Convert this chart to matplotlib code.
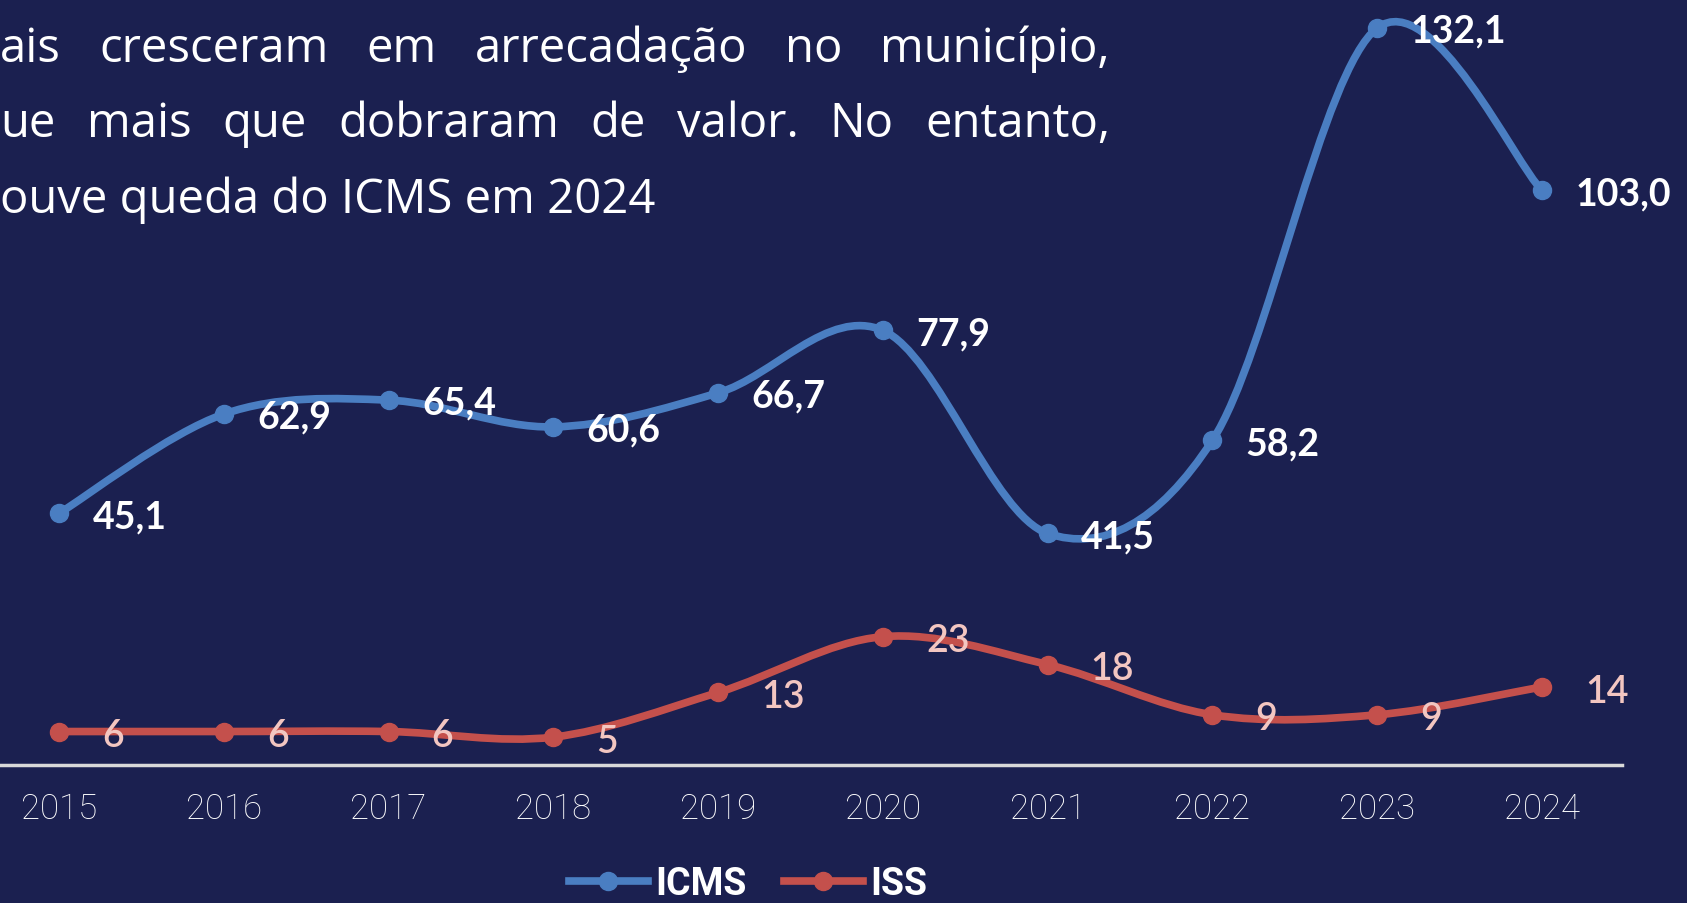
import matplotlib
matplotlib.use("Agg")
import matplotlib.pyplot as plt
from matplotlib.path import Path
from matplotlib.patches import PathPatch
from matplotlib.lines import Line2D
import numpy as np

# ── Data ──────────────────────────────────────────────────────────────────
years = ["2015", "2016", "2017", "2018", "2019", "2020", "2021", "2022", "2023", "2024"]
icms = [45.1, 62.9, 65.4, 60.6, 66.7, 77.9, 41.5, 58.2, 132.1, 103.0]
iss = [6, 6, 6, 5, 13, 23, 18, 9, 9, 14]
icms_labels = ["45,1", "62,9", "65,4", "60,6", "66,7", "77,9", "41,5", "58,2", "132,1", "103,0"]
iss_labels = ["6", "6", "6", "5", "13", "23", "18", "9", "9", "14"]

text_lines = [
    "ais cresceram em arrecadação no município,",
    "ue mais que dobraram de valor. No entanto,",
    "ouve queda do ICMS em 2024",
]

BG = "#1b2050"
BLUE = "#4a7ec2"
RED = "#c4504c"
PINK = "#f3c6c1"
AXIS = "#d9d9d9"

W, H = 1687, 904


def smooth_path(xs, ys):
    # Catmull-Rom -> Bezier (close to Excel "smoothed line")
    pts = np.column_stack([xs, ys]).astype(float)
    ext = np.vstack([pts[0], pts, pts[-1]])
    verts = [tuple(pts[0])]
    codes = [Path.MOVETO]
    for i in range(1, len(ext) - 2):
        p0, p1, p2, p3 = ext[i - 1], ext[i], ext[i + 1], ext[i + 2]
        c1 = p1 + (p2 - p0) / 6.0
        c2 = p2 - (p3 - p1) / 6.0
        verts += [tuple(c1), tuple(c2), tuple(p2)]
        codes += [Path.CURVE4] * 3
    return Path(verts, codes)


fig = plt.figure(figsize=(W / 100, H / 100), dpi=100, facecolor=BG)
ax = fig.add_axes([0, (H - 766) / H, 1622 / W, 766 / H])
ax.set_facecolor(BG)

x = np.arange(len(years))
step = (1542 - 59) / 9
ax.set_xlim(-59 / step, (1622 - 59) / step)
ax.set_ylim(0, 766 / (737 / 132.1))

for vals, col in [(icms, BLUE), (iss, RED)]:
    ax.add_patch(PathPatch(smooth_path(x, vals), fill=False, edgecolor=col,
                           lw=5.5, capstyle="round", joinstyle="round", zorder=2))
    ax.plot(x, vals, "o", ms=13, color=col, zorder=3)

lab_font = ["Lato", "DejaVu Sans"]
for xi, v, s in zip(x, icms, icms_labels):
    ax.annotate(s, (xi, v), xytext=(24, -2), textcoords="offset points",
                ha="left", va="center", color="white", fontsize=27,
                fontweight="bold", family=lab_font, zorder=4, annotation_clip=False)
for xi, v, s in zip(x, iss, iss_labels):
    ax.annotate(s, (xi, v), xytext=(31, -3), textcoords="offset points",
                ha="left", va="center", color=PINK, fontsize=27,
                fontweight="semibold", family=lab_font, zorder=4,
                annotation_clip=False)

for sp in ["top", "left", "right"]:
    ax.spines[sp].set_visible(False)
ax.spines["bottom"].set_color(AXIS)
ax.spines["bottom"].set_linewidth(2.5)
ax.set_yticks([])
ax.set_xticks(x)
ax.set_xticklabels(years, color="white", fontsize=25, fontweight="light",
                   family=["Roboto", "DejaVu Sans"])
ax.tick_params(axis="x", length=0, pad=19)

handles = [
    Line2D([], [], color=BLUE, lw=5.5, marker="o", ms=13),
    Line2D([], [], color=RED, lw=5.5, marker="o", ms=13),
]
leg = fig.legend(handles, ["ICMS", "ISS"], loc="center",
                 bbox_to_anchor=(748 / W, (H - 885) / H), ncol=2, frameon=False,
                 handlelength=2.1, handletextpad=0.2, columnspacing=1.0,
                 prop={"family": ["Roboto", "DejaVu Sans"],
                       "weight": "bold", "size": 27})
for t in leg.get_texts():
    t.set_color("white")

# ── justified paragraph (cropped on the left) ──────────────────────────────
renderer = fig.canvas.get_renderer()
baselines = [62, 137, 213]
right_edge = 1110
txt_font = ["Open Sans", "DejaVu Sans"]
for k, (line, yb) in enumerate(zip(text_lines, baselines)):
    yf = (H - yb) / H
    if k == len(text_lines) - 1:
        fig.text(0, yf, line, color="white", fontsize=34, family=txt_font,
                 ha="left", va="baseline")
        continue
    words = line.split(" ")
    objs = [fig.text(0, yf, w, color="white", fontsize=34, family=txt_font,
                     ha="left", va="baseline") for w in words]
    widths = [o.get_window_extent(renderer).width for o in objs]
    gap = (right_edge - sum(widths)) / (len(words) - 1)
    xpos = 0
    for o, wd in zip(objs, widths):
        o.set_x(xpos / W)
        xpos += wd + gap

fig.savefig("out.png", dpi=100, facecolor=BG)
